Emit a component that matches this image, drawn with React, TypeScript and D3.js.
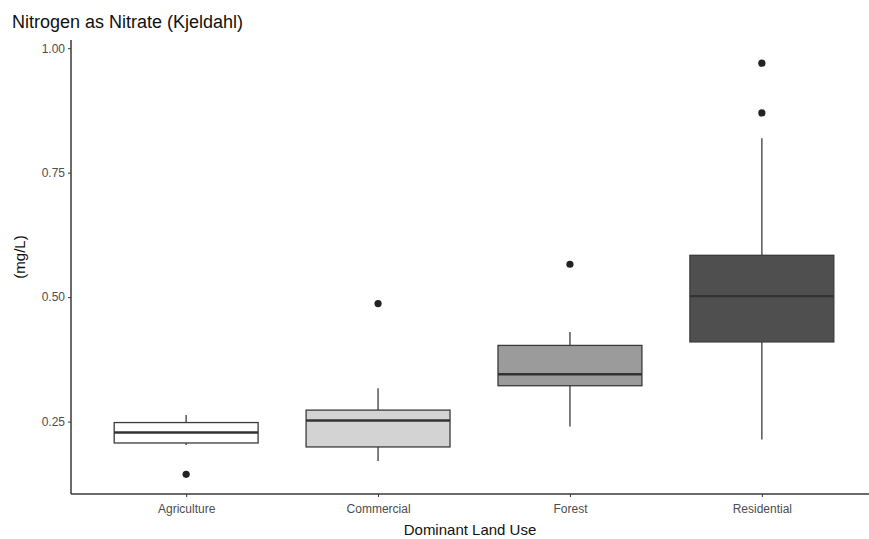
import { useRef, useEffect } from 'react'
import * as d3 from 'd3'

const categories = ['Agriculture', 'Commercial', 'Forest', 'Residential']
const q1 = [0.207, 0.199, 0.322, 0.410]
const median = [0.228, 0.252, 0.345, 0.502]
const q3 = [0.248, 0.273, 0.403, 0.584]
const whiskerLow = [0.203, 0.171, 0.240, 0.214]
const whiskerHigh = [0.263, 0.317, 0.430, 0.819]
const outliers = [[0.144], [0.487], [0.566], [0.870, 0.970]]
const fills = ['#ffffff', '#d3d3d3', '#9b9b9b', '#4f4f4f']
const yTicks = [0.25, 0.5, 0.75, 1.0]

const W = 869
const H = 539
const FONT = 'Liberation Sans, Arial, sans-serif'

export default function App() {
  const svgRef = useRef<SVGSVGElement>(null)

  useEffect(() => {
    const svg = d3.select(svgRef.current)
    svg.selectAll('*').remove()

    const left = 71, top = 40, bottom = 494
    const x = d3.scalePoint().domain(categories).range([left, left + 806]).padding(0.6)
    const y = d3.scaleLinear().domain([0.1045, 1.0165]).range([bottom, top])
    const boxW = x.step() * 0.75

    // y axis
    const yAxis = svg.append('g').attr('transform', `translate(${left},0)`)
      .call(d3.axisLeft(y).tickValues(yTicks).tickFormat(d3.format('.2f')).tickSize(3).tickPadding(3))
    yAxis.select('.domain').remove()
    yAxis.selectAll('line').attr('stroke', '#333')
    yAxis.selectAll('text').attr('fill', '#4d4d4d').style('font-size', '12px').style('font-family', FONT)

    // x axis
    const xAxis = svg.append('g').attr('transform', `translate(0,${bottom})`)
      .call(d3.axisBottom(x).tickSize(3).tickPadding(7))
    xAxis.select('.domain').remove()
    xAxis.selectAll('line').attr('stroke', '#333')
    xAxis.selectAll('text').attr('fill', '#4d4d4d').style('font-size', '12px').style('font-family', FONT)

    // axis lines
    svg.append('line').attr('x1', left).attr('x2', left).attr('y1', top).attr('y2', bottom)
      .attr('stroke', '#3a3a3a').attr('stroke-width', 1.5)
    svg.append('line').attr('x1', left).attr('x2', W).attr('y1', bottom).attr('y2', bottom)
      .attr('stroke', '#3a3a3a').attr('stroke-width', 1.5)

    const g = svg.append('g')
    categories.forEach((c, i) => {
      const cx = x(c) as number
      g.append('line').attr('x1', cx).attr('x2', cx)
        .attr('y1', y(whiskerHigh[i])).attr('y2', y(q3[i]))
        .attr('stroke', '#555').attr('stroke-width', 1.5)
      g.append('line').attr('x1', cx).attr('x2', cx)
        .attr('y1', y(q1[i])).attr('y2', y(whiskerLow[i]))
        .attr('stroke', '#555').attr('stroke-width', 1.5)
      g.append('rect').attr('x', cx - boxW / 2).attr('width', boxW)
        .attr('y', y(q3[i])).attr('height', y(q1[i]) - y(q3[i]))
        .attr('fill', fills[i]).attr('stroke', '#3a3a3a').attr('stroke-width', 1.3)
      g.append('line').attr('x1', cx - boxW / 2).attr('x2', cx + boxW / 2)
        .attr('y1', y(median[i])).attr('y2', y(median[i]))
        .attr('stroke', '#333').attr('stroke-width', 2.4)
      outliers[i].forEach(v => {
        g.append('circle').attr('cx', cx).attr('cy', y(v)).attr('r', 3.6).attr('fill', '#222')
      })
    })

    // titles
    svg.append('text').attr('x', 12).attr('y', 28).text('Nitrogen as Nitrate (Kjeldahl)')
      .style('font-size', '18px').style('font-family', FONT).attr('fill', '#111')
    svg.append('text').attr('x', (left + W) / 2).attr('y', 535).attr('text-anchor', 'middle')
      .text('Dominant Land Use')
      .style('font-size', '15px').style('font-family', FONT).attr('fill', '#111')
    svg.append('text').attr('transform', `translate(25,${(top + bottom) / 2 - 10}) rotate(-90)`)
      .attr('text-anchor', 'middle').text('(mg/L)')
      .style('font-size', '15px').style('font-family', FONT).attr('fill', '#111')
  }, [])

  return (
    <svg ref={svgRef} width={W} height={H}
      style={{ position: 'absolute', left: 0, top: 0, background: '#fff' }} />
  )
}
